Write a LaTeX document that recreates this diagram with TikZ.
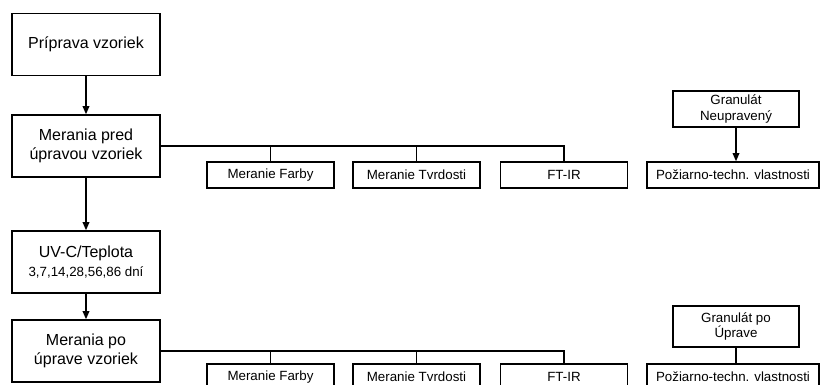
\documentclass[tikz,border=0pt]{standalone}
\usepackage{fontspec}
\setmainfont{Liberation Sans}
\usetikzlibrary{arrows.meta}

\begin{document}
\begin{tikzpicture}[x=0.75pt,y=-0.75pt,>={Triangle[length=6pt,width=5pt]},
    bigbox/.style={draw,line width=1.2pt,inner sep=0pt,align=center,minimum width=111pt,minimum height=46.5pt,font=\fontsize{12}{14.3}\selectfont},
    smallbox/.style={draw,line width=1.2pt,inner sep=0pt,align=center,minimum width=95.25pt,minimum height=19.5pt,font=\fontsize{10}{12}\selectfont},
    granbox/.style={draw,line width=1.2pt,inner sep=0pt,align=center,minimum width=94.5pt,font=\fontsize{10}{11.5}\selectfont},
    link/.style={line width=0.9pt}]
                \useasboundingbox (0,0) rectangle (821,385);
                \clip (0,0) rectangle (821,385);

                % main column
                \node[bigbox] (prip) at (86,44.5) {Príprava vzoriek};
                \node[bigbox] (pred) at (86,146) {Merania pred\\úpravou vzoriek};
                \node[bigbox] (uvc) at (86,262) {UV-C/Teplota\\\fontsize{10}{12}\selectfont 3,7,14,28,56,86 dní};
                \node[bigbox] (po) at (86,351) {Merania po\\úprave vzoriek};

                \draw[->,link] (prip.south)--(pred.north);
                \draw[->,link] (pred.south)--(uvc.north);
                \draw[->,link] (uvc.south)--(po.north);

                % measurements before
                \node[smallbox] (farby1) at (270.5,175) {Meranie Farby};
                \node[smallbox] (tvrd1) at (416.5,175) {Meranie Tvrdosti};
                \node[smallbox] (ftir1) at (564,175) {FT-IR};
                \node[smallbox,minimum width=129pt] (poz1) at (733,175) {Požiarno-techn. vlastnosti};
                \node[granbox,minimum height=27pt] (gran1) at (736,109) {Granulát\\Neupravený};

                \draw[link] (pred.east)-|(ftir1.north);
                \draw[link] (farby1.north)--(farby1.north |- pred.east);
                \draw[link] (tvrd1.north)--(tvrd1.north |- pred.east);
                \draw[->,link] (gran1.south)--(gran1.south |- poz1.north);

                % measurements after
                \node[smallbox] (farby2) at (270.5,377) {Meranie Farby};
                \node[smallbox] (tvrd2) at (416.5,377) {Meranie Tvrdosti};
                \node[smallbox] (ftir2) at (564,377) {FT-IR};
                \node[smallbox,minimum width=129pt] (poz2) at (733,377) {Požiarno-techn. vlastnosti};
                \node[granbox,minimum height=30.75pt] (gran2) at (736,326.5) {Granulát po\\Úprave};

                \draw[link] (po.east)-|(ftir2.north);
                \draw[link] (farby2.north)--(farby2.north |- po.east);
                \draw[link] (tvrd2.north)--(tvrd2.north |- po.east);
                \draw[link] (gran2.south)--(gran2.south |- poz2.north);
            \end{tikzpicture}
\end{document}
